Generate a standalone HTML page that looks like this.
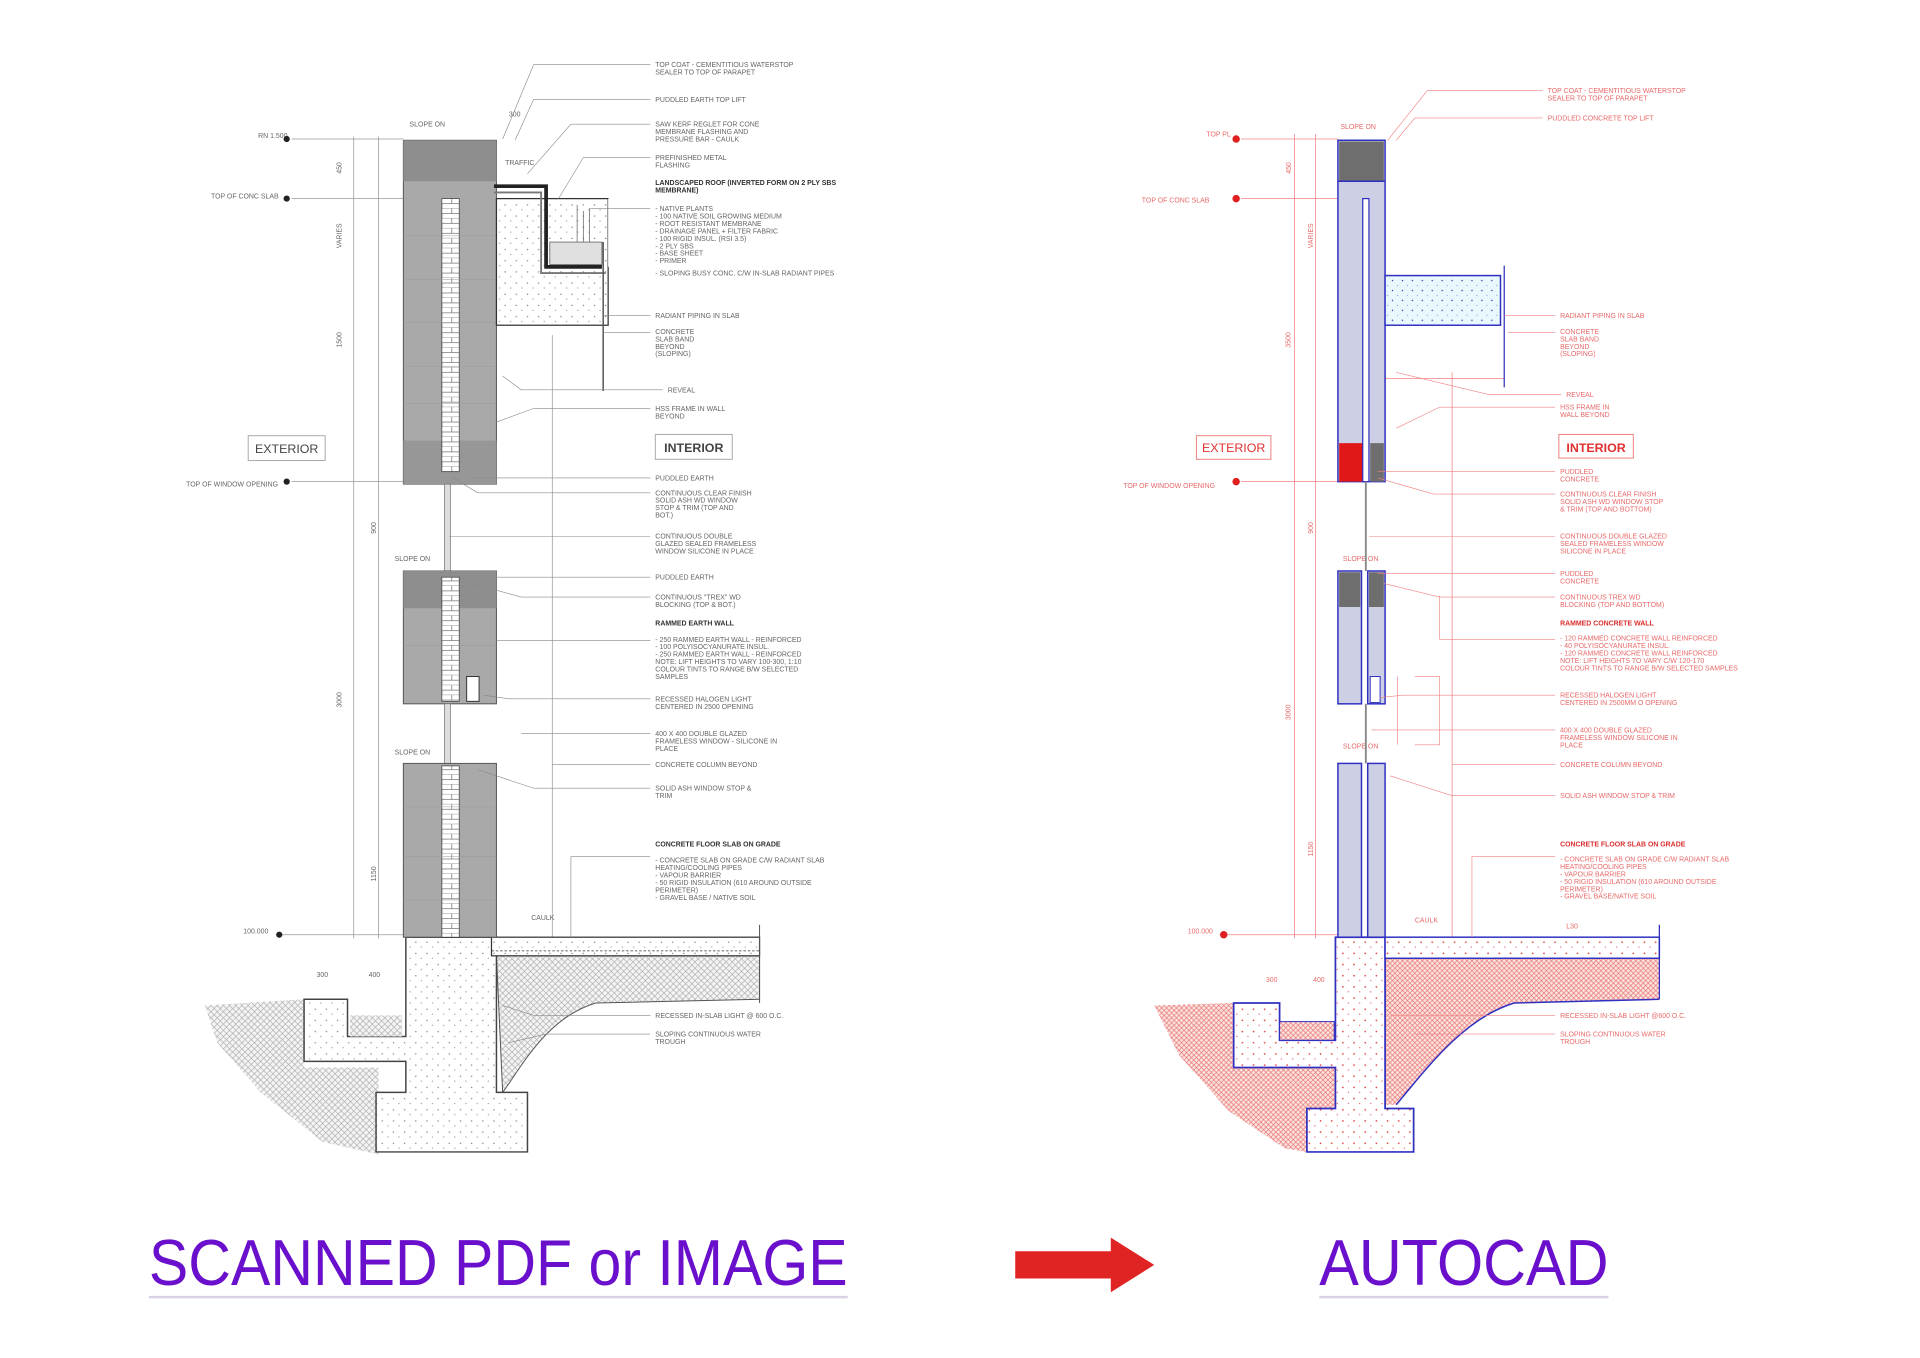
<!DOCTYPE html>
<html><head><meta charset="utf-8">
<style>
html,body{margin:0;padding:0;background:#fff;}
svg{display:block;}
.lt{font-family:"Liberation Sans",sans-serif;font-size:5.6px;fill:#666;}
.lb{font-family:"Liberation Sans",sans-serif;font-size:5.6px;fill:#333;font-weight:bold;}
.rt{font-family:"Liberation Sans",sans-serif;font-size:5.6px;fill:#e86a6a;}
.rb{font-family:"Liberation Sans",sans-serif;font-size:5.6px;fill:#d83030;font-weight:bold;}
</style></head>
<body>
<svg width="1920" height="1358" viewBox="0 0 1547 1094" preserveAspectRatio="none" xmlns="http://www.w3.org/2000/svg">
<defs>
<pattern id="dots" width="9" height="9" patternUnits="userSpaceOnUse"><rect width="9" height="9" fill="#fff"/><circle cx="2" cy="3" r="0.6" fill="#888"/><circle cx="6.5" cy="7" r="0.5" fill="#999"/></pattern>
<pattern id="rdots" width="9" height="9" patternUnits="userSpaceOnUse"><rect width="9" height="9" fill="#fff"/><circle cx="2" cy="3" r="0.7" fill="#e04040"/><circle cx="6.5" cy="7" r="0.5" fill="#e06060"/></pattern>
<pattern id="hatch" width="5" height="5" patternUnits="userSpaceOnUse"><rect width="5" height="5" fill="#f4f4f4"/><path d="M0 5L5 0M0 0L5 5" stroke="#aaa" stroke-width="0.5"/></pattern>
<pattern id="rhatch" width="4" height="4" patternUnits="userSpaceOnUse"><rect width="4" height="4" fill="#fbe4e0"/><path d="M0 4L4 0M0 0L4 4" stroke="#e87070" stroke-width="0.5"/></pattern>
<pattern id="brick" width="15" height="8" patternUnits="userSpaceOnUse"><rect width="15" height="8" fill="#fff"/><path d="M0 4H15M0 8H15M4 0V4M11 4V8" stroke="#777" stroke-width="0.6"/></pattern>
<pattern id="cyan" width="8" height="8" patternUnits="userSpaceOnUse"><rect width="8" height="8" fill="#e8f8fc"/><circle cx="2" cy="2" r="0.6" fill="#3a3ab0"/><circle cx="6" cy="6" r="0.5" fill="#8ad"/></pattern>
</defs>

<!-- ================= LEFT DRAWING ================= -->
<g stroke="#999" stroke-width="0.6" fill="none">
  <line x1="285" y1="110" x2="285" y2="756"/>
  <line x1="305" y1="110" x2="305" y2="756"/>
  <line x1="235" y1="112" x2="325" y2="112"/>
  <line x1="235" y1="160" x2="325" y2="160"/>
  <line x1="235" y1="388" x2="325" y2="388"/>
  <line x1="225" y1="753" x2="325" y2="753"/>
  <line x1="445" y1="270" x2="445" y2="755"/>
  <line x1="405" y1="115" x2="405" y2="140"/>
</g>
<g class="lt" font-size="5">
<text x="208" y="111">RN 1.500</text><text x="170" y="160">TOP OF CONC SLAB</text><text x="150" y="392">TOP OF WINDOW OPENING</text><text x="196" y="752">100.000</text>
<text x="275" y="140" transform="rotate(-90 275 140)">450</text><text x="275" y="200" transform="rotate(-90 275 200)">VARIES</text>
<text x="275" y="280" transform="rotate(-90 275 280)">1500</text><text x="275" y="570" transform="rotate(-90 275 570)">3000</text>
<text x="303" y="430" transform="rotate(-90 303 430)">900</text><text x="303" y="710" transform="rotate(-90 303 710)">1150</text>
<text x="330" y="102">SLOPE ON</text><text x="318" y="452">SLOPE ON</text><text x="318" y="608">SLOPE ON</text><text x="410" y="94">300</text>
<text x="255" y="787">300</text><text x="297" y="787">400</text><text x="428" y="741">CAULK</text>
</g>
<g fill="#222"><circle cx="231" cy="112" r="2.5"/><circle cx="231" cy="160" r="2.5"/><circle cx="231" cy="388" r="2.5"/><circle cx="225" cy="753" r="2.5"/></g>

<!-- soil left -->
<path d="M165 810 L245 805 L245 860 L305 860 L305 930 L260 920 L210 880 L175 840 Z" fill="url(#hatch)"/>
<!-- interior soil -->
<path d="M400 770 L612 770 L612 805 L480 808 C440 820 420 860 405 880 Z" fill="url(#hatch)" stroke="#555" stroke-width="0.8"/>
<!-- foundation -->
<path d="M327 755 L400 755 L400 880 L425 880 L425 928 L303 928 L303 880 L327 880 L327 855 L245 855 L245 805 L280 805 L280 835 L327 835 Z" fill="url(#dots)" stroke="#444" stroke-width="1.2"/>
<rect x="282" y="818" width="42" height="17" fill="url(#hatch)"/>
<!-- slab on grade -->
<rect x="396" y="755" width="216" height="15" fill="url(#dots)" stroke="#333" stroke-width="1"/>
<line x1="396" y1="766" x2="612" y2="766" stroke="#333" stroke-dasharray="2 1.5" stroke-width="0.6"/>
<line x1="612" y1="745" x2="612" y2="808" stroke="#555" stroke-width="0.8"/>
<!-- walls -->
<rect x="325" y="113" width="75" height="277" fill="#a9a9a9" stroke="#555" stroke-width="0.8"/>
<rect x="325" y="113" width="75" height="33" fill="#8e8e8e"/>
<rect x="325" y="355" width="75" height="35" fill="#979797"/>
<rect x="356" y="160" width="14" height="220" fill="url(#brick)" stroke="#444" stroke-width="0.6"/>
<g stroke="#999" stroke-width="0.4"><line x1="325" y1="190" x2="400" y2="190"/><line x1="325" y1="225" x2="400" y2="225"/><line x1="325" y1="260" x2="400" y2="260"/><line x1="325" y1="295" x2="400" y2="295"/><line x1="325" y1="325" x2="400" y2="325"/></g>
<rect x="358" y="390" width="5" height="70" fill="#ddd" stroke="#666" stroke-width="0.5"/>
<rect x="325" y="460" width="75" height="107" fill="#a9a9a9" stroke="#555" stroke-width="0.8"/>
<rect x="325" y="460" width="75" height="30" fill="#8e8e8e"/>
<rect x="356" y="465" width="14" height="100" fill="url(#brick)" stroke="#444" stroke-width="0.6"/>
<rect x="376" y="545" width="10" height="20" fill="#fff" stroke="#333" stroke-width="0.8"/>
<rect x="358" y="567" width="5" height="48" fill="#ddd" stroke="#666" stroke-width="0.5"/>
<rect x="325" y="615" width="75" height="140" fill="#a9a9a9" stroke="#555" stroke-width="0.8"/>
<rect x="356" y="617" width="14" height="138" fill="url(#brick)" stroke="#444" stroke-width="0.6"/>
<g stroke="#999" stroke-width="0.4"><line x1="325" y1="650" x2="400" y2="650"/><line x1="325" y1="690" x2="400" y2="690"/><line x1="325" y1="725" x2="400" y2="725"/><line x1="325" y1="520" x2="400" y2="520"/></g>
<!-- roof -->
<rect x="400" y="160" width="90" height="102" fill="url(#dots)" stroke="#333" stroke-width="1"/>
<rect x="490" y="160" width="30" height="55" fill="#fff"/>
<path d="M398 150 L440 150 L440 215 L485 215" fill="none" stroke="#222" stroke-width="3"/>
<path d="M398 155 L436 155 L436 220 L488 220" fill="none" stroke="#777" stroke-width="1.5"/>
<rect x="443" y="195" width="42" height="18" fill="#e0e0e0" stroke="#555" stroke-width="0.6"/>
<g stroke="#666" stroke-width="0.6"><line x1="465" y1="165" x2="465" y2="195"/><line x1="470" y1="170" x2="470" y2="195"/><line x1="475" y1="168" x2="475" y2="195"/></g>
<line x1="486" y1="195" x2="486" y2="315" stroke="#555" stroke-width="1.2"/>
<rect x="402" y="115" width="28" height="30" fill="#fff"/><text class="lt" x="407" y="133">TRAFFIC</text>

<!-- left labels -->
<g class="lt">
<text x="528" y="54">TOP COAT - CEMENTITIOUS WATERSTOP</text><text x="528" y="60">SEALER TO TOP OF PARAPET</text>
<text x="528" y="82">PUDDLED EARTH TOP LIFT</text>
<text x="528" y="102">SAW KERF REGLET FOR CONE</text><text x="528" y="108">MEMBRANE FLASHING AND</text><text x="528" y="114">PRESSURE BAR - CAULK</text>
<text x="528" y="129">PREFINISHED METAL</text><text x="528" y="135">FLASHING</text>
</g>
<text class="lb" x="528" y="149">LANDSCAPED ROOF (INVERTED FORM ON 2 PLY SBS</text><text class="lb" x="528" y="155">MEMBRANE)</text>
<g class="lt">
<text x="528" y="170">- NATIVE PLANTS</text><text x="528" y="176">- 100 NATIVE SOIL GROWING MEDIUM</text><text x="528" y="182">- ROOT RESISTANT MEMBRANE</text><text x="528" y="188">- DRAINAGE PANEL + FILTER FABRIC</text><text x="528" y="194">- 100 RIGID INSUL. (RSI 3.5)</text><text x="528" y="200">- 2 PLY SBS</text><text x="528" y="206">- BASE SHEET</text><text x="528" y="212">- PRIMER</text><text x="528" y="222">- SLOPING BUSY CONC. C/W IN-SLAB RADIANT PIPES</text>
<text x="528" y="256">RADIANT PIPING IN SLAB</text>
<text x="528" y="269">CONCRETE</text><text x="528" y="275">SLAB BAND</text><text x="528" y="281">BEYOND</text><text x="528" y="287">(SLOPING)</text>
<text x="538" y="316">REVEAL</text>
<text x="528" y="331">HSS FRAME IN WALL</text><text x="528" y="337">BEYOND</text>
<text x="528" y="387">PUDDLED EARTH</text>
<text x="528" y="399">CONTINUOUS CLEAR FINISH</text><text x="528" y="405">SOLID ASH WD WINDOW</text><text x="528" y="411">STOP &amp; TRIM (TOP AND</text><text x="528" y="417">BOT.)</text>
<text x="528" y="434">CONTINUOUS DOUBLE</text><text x="528" y="440">GLAZED SEALED FRAMELESS</text><text x="528" y="446">WINDOW SILICONE IN PLACE</text>
<text x="528" y="467">PUDDLED EARTH</text>
<text x="528" y="483">CONTINUOUS "TREX" WD</text><text x="528" y="489">BLOCKING (TOP &amp; BOT.)</text>
</g>
<text class="lb" x="528" y="504">RAMMED EARTH WALL</text>
<g class="lt">
<text x="528" y="517">- 250 RAMMED EARTH WALL - REINFORCED</text><text x="528" y="523">- 100 POLYISOCYANURATE INSUL.</text><text x="528" y="529">- 250 RAMMED EARTH WALL - REINFORCED</text><text x="528" y="535">NOTE: LIFT HEIGHTS TO VARY 100-300, 1:10</text><text x="528" y="541">COLOUR TINTS TO RANGE B/W SELECTED</text><text x="528" y="547">SAMPLES</text>
<text x="528" y="565">RECESSED HALOGEN LIGHT</text><text x="528" y="571">CENTERED IN 2500 OPENING</text>
<text x="528" y="593">400 X 400 DOUBLE GLAZED</text><text x="528" y="599">FRAMELESS WINDOW - SILICONE IN</text><text x="528" y="605">PLACE</text>
<text x="528" y="618">CONCRETE COLUMN BEYOND</text>
<text x="528" y="637">SOLID ASH WINDOW STOP &amp;</text><text x="528" y="643">TRIM</text>
</g>
<text class="lb" x="528" y="682">CONCRETE FLOOR SLAB ON GRADE</text>
<g class="lt">
<text x="528" y="695">- CONCRETE SLAB ON GRADE C/W RADIANT SLAB</text><text x="528" y="701">HEATING/COOLING PIPES</text><text x="528" y="707">- VAPOUR BARRIER</text><text x="528" y="713">- 50 RIGID INSULATION (610 AROUND OUTSIDE</text><text x="528" y="719">PERIMETER)</text><text x="528" y="725">- GRAVEL BASE / NATIVE SOIL</text>
<text x="528" y="820">RECESSED IN-SLAB LIGHT @ 600 O.C.</text>
<text x="528" y="835">SLOPING CONTINUOUS WATER</text><text x="528" y="841">TROUGH</text>
</g>
<g stroke="#888" stroke-width="0.5" fill="none">
<path d="M524 52 L430 52 L405 112"/><path d="M524 80 L430 80 L415 113"/><path d="M524 100 L460 100 L425 140"/><path d="M524 127 L470 127 L450 160"/><path d="M524 168 L475 168 L475 195"/>
<path d="M524 254 L486 254"/><path d="M524 268 L486 268"/><path d="M534 314 L420 314 L405 303"/><path d="M524 329 L430 329 L400 340"/>
<path d="M524 385 L380 385"/><path d="M524 397 L385 397 L365 385"/><path d="M524 432 L362 432"/><path d="M524 465 L400 465"/>
<path d="M524 481 L420 481 L380 470"/><path d="M524 516 L400 516"/><path d="M524 563 L410 563 L390 560"/><path d="M524 591 L420 591"/>
<path d="M524 616 L445 616"/><path d="M524 635 L430 635 L385 620"/><path d="M524 690 L460 690 L460 755"/><path d="M524 818 L430 818 L405 810"/><path d="M524 833 L440 833 L410 840"/>
</g>
<rect x="200" y="351" width="62" height="20" fill="#fff" stroke="#aaa" stroke-width="0.8"/>
<text x="231" y="365" text-anchor="middle" font-family="Liberation Sans,sans-serif" font-size="10" fill="#444">EXTERIOR</text>
<rect x="528" y="350" width="62" height="20" fill="#fff" stroke="#aaa" stroke-width="0.8"/>
<text x="559" y="364" text-anchor="middle" font-family="Liberation Sans,sans-serif" font-size="10" fill="#444" font-weight="bold">INTERIOR</text>

<!-- ================= RIGHT DRAWING ================= -->
<g stroke="#f08080" stroke-width="0.6" fill="none">
  <line x1="1043" y1="108" x2="1043" y2="756"/>
  <line x1="1060" y1="108" x2="1060" y2="756"/>
  <line x1="1000" y1="112" x2="1078" y2="112"/>
  <line x1="1000" y1="160" x2="1078" y2="160"/>
  <line x1="1000" y1="388" x2="1078" y2="388"/>
  <line x1="985" y1="753" x2="1078" y2="753"/>
  <line x1="1170" y1="300" x2="1170" y2="755"/>
  <line x1="1116" y1="305" x2="1212" y2="305"/>
</g>
<g class="rt" font-size="5">
<text x="972" y="110">TOP PL</text><text x="920" y="163">TOP OF CONC SLAB</text><text x="905" y="393">TOP OF WINDOW OPENING</text><text x="957" y="752">100.000</text>
<text x="1040" y="140" transform="rotate(-90 1040 140)">450</text><text x="1040" y="280" transform="rotate(-90 1040 280)">3500</text><text x="1040" y="580" transform="rotate(-90 1040 580)">3000</text>
<text x="1058" y="200" transform="rotate(-90 1058 200)">VARIES</text><text x="1058" y="430" transform="rotate(-90 1058 430)">900</text><text x="1058" y="690" transform="rotate(-90 1058 690)">1150</text>
<text x="1080" y="104">SLOPE ON</text><text x="1082" y="452">SLOPE ON</text><text x="1082" y="603">SLOPE ON</text>
<text x="1020" y="791">300</text><text x="1058" y="791">400</text><text x="1140" y="743">CAULK</text><text x="1262" y="748">L30</text>
</g>
<g fill="#e02020"><circle cx="996" cy="112" r="3"/><circle cx="996" cy="160" r="3"/><circle cx="996" cy="388" r="3"/><circle cx="986" cy="753" r="3"/></g>

<!-- right soil -->
<path d="M930 810 L994 808 L994 860 L1076 860 L1076 893 L1053 893 L1053 928 L1035 925 L990 895 L950 850 Z" fill="url(#rhatch)"/>
<path d="M1116 772 L1337 772 L1337 805 L1220 808 C1180 820 1150 860 1125 890 L1116 890 Z" fill="url(#rhatch)"/>
<path d="M1337 805 L1220 808 C1180 820 1150 860 1125 890" fill="none" stroke="#3030c0" stroke-width="1.2"/>
<!-- right foundation -->
<path d="M1076 755 L1116 755 L1116 893 L1139 893 L1139 928 L1053 928 L1053 893 L1076 893 L1076 860 L994 860 L994 808 L1031 808 L1031 838 L1076 838 Z" fill="url(#rdots)" stroke="#3030c0" stroke-width="1.4"/>
<rect x="1031" y="823" width="44" height="15" fill="url(#rhatch)" stroke="#3030c0" stroke-width="0.8"/>
<rect x="1116" y="755" width="221" height="17" fill="url(#rdots)" stroke="#3030c0" stroke-width="1.2"/>
<line x1="1337" y1="745" x2="1337" y2="805" stroke="#3030c0" stroke-width="1"/>
<!-- right walls -->
<rect x="1078" y="113" width="38" height="275" fill="#cdd0e4" stroke="#3030c0" stroke-width="1.2"/>
<rect x="1079" y="114" width="36" height="32" fill="#6e6e6e"/>
<line x1="1078" y1="146" x2="1116" y2="146" stroke="#3030c0" stroke-width="1.2"/>
<rect x="1079" y="357" width="19" height="31" fill="#e01818"/>
<rect x="1104" y="357" width="11" height="31" fill="#6e6e6e"/>
<rect x="1098" y="160" width="5" height="228" fill="#fff" stroke="#3030c0" stroke-width="1"/>
<line x1="1100.5" y1="388" x2="1100.5" y2="460" stroke="#888" stroke-width="1.5"/>
<rect x="1078" y="460" width="19" height="107" fill="#cdd0e4" stroke="#3030c0" stroke-width="1.2"/>
<rect x="1102" y="460" width="14" height="107" fill="#cdd0e4" stroke="#3030c0" stroke-width="1.2"/>
<rect x="1079" y="461" width="17" height="28" fill="#6e6e6e"/><rect x="1103" y="461" width="12" height="28" fill="#6e6e6e"/>
<rect x="1104" y="545" width="8" height="21" fill="#fff" stroke="#3030c0" stroke-width="0.8"/>
<line x1="1100.5" y1="567" x2="1100.5" y2="615" stroke="#888" stroke-width="1.5"/>
<rect x="1078" y="615" width="19" height="140" fill="#cdd0e4" stroke="#3030c0" stroke-width="1.2"/>
<rect x="1102" y="615" width="14" height="140" fill="#cdd0e4" stroke="#3030c0" stroke-width="1.2"/>
<!-- upper slab -->
<rect x="1116" y="222" width="93" height="40" fill="url(#cyan)" stroke="#3030c0" stroke-width="1.2"/>
<line x1="1212" y1="214" x2="1212" y2="312" stroke="#3030c0" stroke-width="1"/>
<g stroke="#f08080" stroke-width="0.5" fill="none">
<path d="M1140 545 L1160 545 L1160 600 L1140 600"/><path d="M1126 545 L1126 600"/>
</g>

<!-- right labels -->
<g class="rt">
<text x="1247" y="75">TOP COAT - CEMENTITIOUS WATERSTOP</text><text x="1247" y="81">SEALER TO TOP OF PARAPET</text>
<text x="1247" y="97">PUDDLED CONCRETE TOP LIFT</text>
<text x="1257" y="256">RADIANT PIPING IN SLAB</text>
<text x="1257" y="269">CONCRETE</text><text x="1257" y="275">SLAB BAND</text><text x="1257" y="281">BEYOND</text><text x="1257" y="287">(SLOPING)</text>
<text x="1262" y="320">REVEAL</text>
<text x="1257" y="330">HSS FRAME IN</text><text x="1257" y="336">WALL BEYOND</text>
<text x="1257" y="382">PUDDLED</text><text x="1257" y="388">CONCRETE</text>
<text x="1257" y="400">CONTINUOUS CLEAR FINISH</text><text x="1257" y="406">SOLID ASH WD WINDOW STOP</text><text x="1257" y="412">&amp; TRIM (TOP AND BOTTOM)</text>
<text x="1257" y="434">CONTINUOUS DOUBLE GLAZED</text><text x="1257" y="440">SEALED FRAMELESS WINDOW</text><text x="1257" y="446">SILICONE IN PLACE</text>
<text x="1257" y="464">PUDDLED</text><text x="1257" y="470">CONCRETE</text>
<text x="1257" y="483">CONTINUOUS TREX WD</text><text x="1257" y="489">BLOCKING (TOP AND BOTTOM)</text>
</g>
<text class="rb" x="1257" y="504">RAMMED CONCRETE WALL</text>
<g class="rt">
<text x="1257" y="516">- 120 RAMMED CONCRETE WALL REINFORCED</text><text x="1257" y="522">- 40 POLYISOCYANURATE INSUL.</text><text x="1257" y="528">- 120 RAMMED CONCRETE WALL REINFORCED</text><text x="1257" y="534">NOTE: LIFT HEIGHTS TO VARY C/W 120-170</text><text x="1257" y="540">COLOUR TINTS TO RANGE B/W SELECTED SAMPLES</text>
<text x="1257" y="562">RECESSED HALOGEN LIGHT</text><text x="1257" y="568">CENTERED IN 2500MM O OPENING</text>
<text x="1257" y="590">400 X 400 DOUBLE GLAZED</text><text x="1257" y="596">FRAMELESS WINDOW SILICONE IN</text><text x="1257" y="602">PLACE</text>
<text x="1257" y="618">CONCRETE COLUMN BEYOND</text>
<text x="1257" y="643">SOLID ASH WINDOW STOP &amp; TRIM</text>
</g>
<text class="rb" x="1257" y="682">CONCRETE FLOOR SLAB ON GRADE</text>
<g class="rt">
<text x="1257" y="694">- CONCRETE SLAB ON GRADE C/W RADIANT SLAB</text><text x="1257" y="700">HEATING/COOLING PIPES</text><text x="1257" y="706">- VAPOUR BARRIER</text><text x="1257" y="712">- 50 RIGID INSULATION (610 AROUND OUTSIDE</text><text x="1257" y="718">PERIMETER)</text><text x="1257" y="724">- GRAVEL BASE/NATIVE SOIL</text>
<text x="1257" y="820">RECESSED IN-SLAB LIGHT @600 O.C.</text>
<text x="1257" y="835">SLOPING CONTINUOUS WATER</text><text x="1257" y="841">TROUGH</text>
</g>
<g stroke="#f08080" stroke-width="0.5" fill="none">
<path d="M1243 73 L1150 73 L1118 113"/><path d="M1243 95 L1140 95 L1125 113"/>
<path d="M1253 254 L1212 254"/><path d="M1253 268 L1215 268"/><path d="M1258 318 L1200 318 L1125 300"/><path d="M1253 328 L1160 328 L1125 345"/>
<path d="M1253 380 L1110 380"/><path d="M1253 398 L1155 398 L1110 385"/><path d="M1253 432 L1103 432"/><path d="M1253 462 L1110 462"/>
<path d="M1253 481 L1160 481 L1115 470"/><path d="M1253 515 L1160 515 L1160 480"/><path d="M1253 560 L1130 560 L1112 562"/><path d="M1253 588 L1105 588"/>
<path d="M1253 616 L1170 616"/><path d="M1253 641 L1170 641 L1120 625"/><path d="M1253 690 L1186 690 L1186 755"/><path d="M1253 818 L1120 818"/><path d="M1253 833 L1140 833"/>
</g>
<rect x="964" y="351" width="60" height="19" fill="#fff" stroke="#f08080" stroke-width="0.8"/>
<text x="994" y="364" text-anchor="middle" font-family="Liberation Sans,sans-serif" font-size="10" fill="#e03030">EXTERIOR</text>
<rect x="1256" y="350" width="60" height="19" fill="#fff" stroke="#f08080" stroke-width="0.8"/>
<text x="1286" y="364" text-anchor="middle" font-family="Liberation Sans,sans-serif" font-size="10" fill="#e03030" font-weight="bold">INTERIOR</text>

<!-- ================= BOTTOM CAPTIONS ================= -->
<text x="120" y="1035" font-family="Liberation Sans,sans-serif" font-size="52" fill="#6a10cc" textLength="563" lengthAdjust="spacingAndGlyphs">SCANNED PDF or IMAGE</text>
<line x1="120" y1="1045" x2="683" y2="1045" stroke="#d8d2e2" stroke-width="2"/>
<path d="M818 1008 L895 1008 L895 997 L930 1019 L895 1041 L895 1030 L818 1030 Z" fill="#e02424"/>
<text x="1063" y="1035" font-family="Liberation Sans,sans-serif" font-size="52" fill="#6a10cc" textLength="233" lengthAdjust="spacingAndGlyphs">AUTOCAD</text>
<line x1="1063" y1="1045" x2="1296" y2="1045" stroke="#d8d2e2" stroke-width="2"/>
</svg>
</body></html>
